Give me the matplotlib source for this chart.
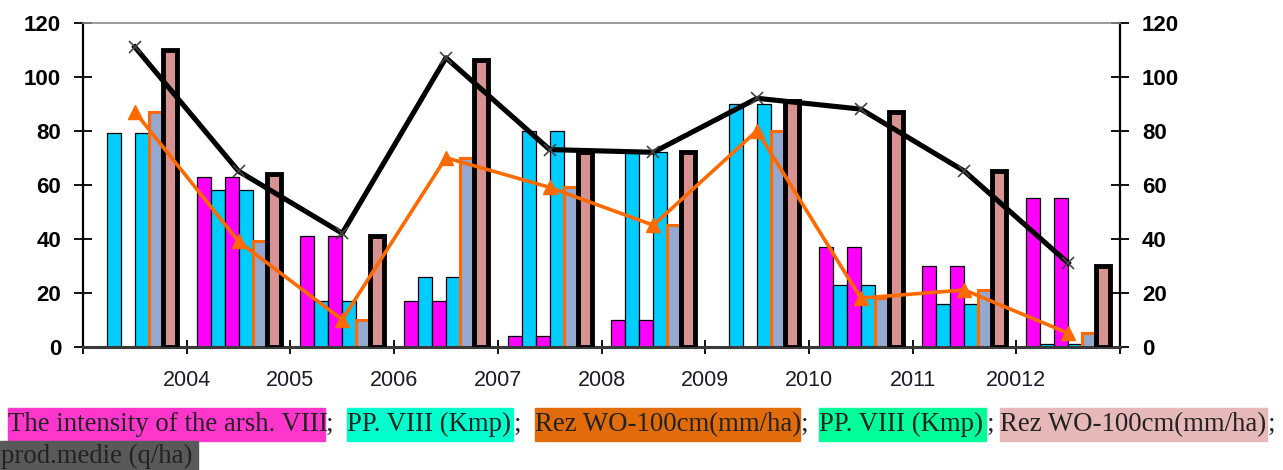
import matplotlib
matplotlib.use("Agg")
import matplotlib.pyplot as plt
import numpy as np
from matplotlib.patches import Rectangle

# values (ten groups, labels sit on the group borders)
years = ["2004", "2005", "2006", "2007", "2008", "2009", "2010", "2011", "20012"]
intensity = [0, 63, 41, 17, 4, 10, 0, 37, 30, 55]
pp_kmp = [79, 58, 17, 26, 80, 72, 90, 23, 16, 1]
rez_wo = [87, 39, 10, 70, 59, 45, 80, 18, 21, 5]
prod_bar = [110, 64, 41, 106, 72, 72, 91, 87, 65, 30]
prod_line = [111, 65, 42, 107, 73, 72, 92, 88, 65, 31]

legend_items = [
    ("The intensity of the arsh. VIII", "#FF36CC", 8, 325),
    ("PP. VIII (Kmp)", "#00FFCC", 347, 513),
    ("Rez WO-100cm(mm/ha)", "#E36C0A", 535, 800),
    ("PP. VIII (Kmp)", "#00FF99", 819, 986),
    ("Rez WO-100cm(mm/ha)", "#E6B8B7", 1000, 1267),
]
legend_row2 = ("prod.medie (q/ha)", "#595959", 0, 198)

W, H = 1283, 470
plt.rcParams["font.family"] = ["Liberation Sans", "DejaVu Sans"]

fig = plt.figure(figsize=(W / 100, H / 100), dpi=100)
ax = fig.add_axes([83 / W, 1 - 346.7 / H, (1120 - 83) / W, (346.7 - 22.7) / H])

x = np.arange(len(intensity)) + 0.5
bw = 0.135


def pos(k):
    return x + (k - 2.5) * bw


ax.bar(pos(0), intensity, bw, color="#FF00FF", edgecolor="black", linewidth=0.9, zorder=2)
ax.bar(pos(1), pp_kmp, bw, color="#00CCFF", edgecolor="black", linewidth=0.9, zorder=2)
ax.bar(pos(2), intensity, bw, color="#FF00FF", edgecolor="black", linewidth=0.9, zorder=2)
ax.bar(pos(3), pp_kmp, bw, color="#00CCFF", edgecolor="black", linewidth=0.9, zorder=2)
ax.bar(pos(4), rez_wo, bw, color="#94A8D0", edgecolor="#FF6A00", linewidth=2.2, zorder=2)
ax.bar(pos(5), prod_bar, bw, color="#D69391", edgecolor="black", linewidth=3.5, zorder=3)

ax.plot(x, prod_line, color="black", lw=3.7, marker="x", ms=8, mew=1.2,
        mec="#444444", zorder=6)
ax.plot(x, rez_wo, color="#FF6A00", lw=2.6, marker="^", ms=10, zorder=5)

ax.set_xlim(0, 10)
ax.set_ylim(0, 120)

ax.spines["top"].set_color("#8a8a8a")
ax.spines["top"].set_linewidth(1.2)
ax.spines["bottom"].set_color("#3a3a3a")
ax.spines["bottom"].set_linewidth(2.2)
ax.spines["left"].set_linewidth(1.6)
ax.spines["right"].set_linewidth(1.6)

ax.set_xticks(np.arange(0, 11))
ax.set_xticklabels([""] + years + [""])
ax.tick_params(axis="x", direction="inout", length=10, width=1.3, pad=12,
               labelsize=15.5, labelcolor="#1c1c2a")

ax.set_yticks(np.arange(0, 121, 20))
ax.tick_params(axis="y", direction="inout", length=13.5, width=1.3, pad=9,
               left=True, right=True, labelleft=True, labelright=True,
               labelsize=16)
for t in ax.yaxis.get_major_ticks():
    t.label1.set_fontweight("heavy")
    t.label2.set_fontweight("heavy")

# legend drawn as highlighted text runs under the chart
serif = ["Liberation Serif", "DejaVu Serif"]
fs = 19.3
y0, y1 = 408, 441
for label, col, xa, xb in legend_items:
    fig.patches.append(Rectangle((xa / W, 1 - y1 / H), (xb - xa) / W, (y1 - y0) / H,
                                 transform=fig.transFigure, color=col, zorder=0))
    fig.text(xa / W, 1 - (y0 + y1) / 2 / H, label, family=serif, fontsize=fs,
             va="center", ha="left", color="#222222")
    fig.text((xb + 1) / W, 1 - (y0 + y1) / 2 / H, ";", family=serif, fontsize=fs,
             va="center", ha="left", color="#222222")

label, col, xa, xb = legend_row2
fig.patches.append(Rectangle((xa / W, 1 - 470 / H), (xb - xa) / W, (470 - 441) / H,
                             transform=fig.transFigure, color=col, zorder=0))
fig.text((xa + 1) / W, 1 - 456 / H, label, family=serif, fontsize=fs,
         va="center", ha="left", color="#222222")

fig.savefig("out.png", dpi=100)
